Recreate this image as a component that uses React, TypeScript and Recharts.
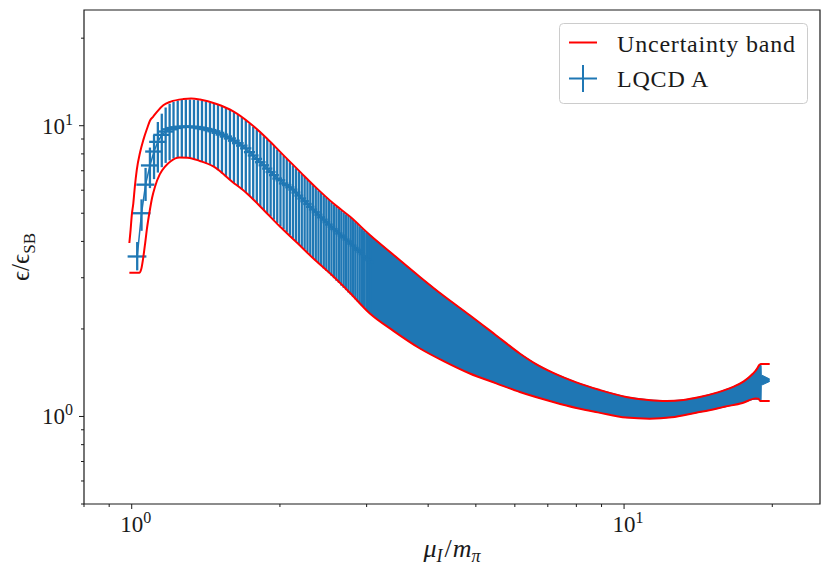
import React from 'react'
import {
  ComposedChart, XAxis, YAxis, Scatter, ErrorBar, Line, Area, Legend, ReferenceArea,
} from 'recharts'

// lattice points (mu_I / m_pi) with central value and lower / upper ends of the error bar
const MU_PTS = [
  1.026, 1.047, 1.067, 1.089, 1.110, 1.130, 1.151, 1.172, 1.194, 1.216,
  1.240, 1.264, 1.288, 1.313, 1.338, 1.363, 1.389, 1.415, 1.442, 1.469,
  1.497, 1.525, 1.554, 1.583, 1.613, 1.643, 1.674, 1.705, 1.735, 1.765,
  1.795, 1.825, 1.855, 1.885, 1.915, 1.945, 1.975, 2.005, 2.035, 2.065,
  2.095, 2.125, 2.155, 2.185, 2.215, 2.245, 2.275, 2.305, 2.335, 2.365,
  2.395, 2.425, 2.455, 2.485, 2.515, 2.545, 2.575, 2.605, 2.635, 2.665,
  2.695, 2.725, 2.755, 2.785, 2.815, 2.845, 2.875, 2.905, 2.935, 2.965,
  2.995, 3.025, 3.055,
]
const EPS_MID = [
  3.55, 5.0, 6.27, 7.3, 8.15, 8.8, 9.3, 9.55, 9.72, 9.82,
  9.88, 9.92, 9.93, 9.92, 9.9, 9.86, 9.8, 9.74, 9.66, 9.57,
  9.45, 9.32, 9.18, 9.04, 8.88, 8.71, 8.54, 8.36, 8.11, 7.9,
  7.69, 7.49, 7.31, 7.12, 6.93, 6.76, 6.58, 6.49, 6.33, 6.25,
  6.14, 6.03, 5.89, 5.75, 5.62, 5.5, 5.38, 5.26, 5.15, 5.04,
  4.94, 4.84, 4.75, 4.66, 4.57, 4.49, 4.41, 4.34, 4.26, 4.19,
  4.13, 4.06, 4.0, 3.93, 3.87, 3.8, 3.74, 3.68, 3.62, 3.56,
  3.5, 3.45, 3.4,
]
const EPS_LO = [
  3.18, 4.35, 5.51, 6.1, 6.55, 6.9, 7.2, 7.45, 7.6, 7.72,
  7.76, 7.77, 7.76, 7.72, 7.67, 7.6, 7.52, 7.42, 7.33, 7.22,
  7.03, 6.85, 6.68, 6.51, 6.35, 6.19, 6.04, 5.89, 5.73, 5.57,
  5.42, 5.27, 5.13, 5.0, 4.87, 4.75, 4.63, 4.52, 4.41, 4.3,
  4.2, 4.1, 4.01, 3.92, 3.83, 3.75, 3.67, 3.59, 3.51, 3.44,
  3.37, 3.3, 3.23, 3.17, 3.11, 3.05, 2.99, 2.93, 2.88, 2.82,
  2.77, 2.72, 2.67, 2.63, 2.58, 2.53, 2.49, 2.45, 2.41, 2.37,
  2.33, 2.29, 2.25,
]
const EPS_HI = [
  3.98, 5.58, 7.16, 8.41, 9.3, 10.3, 11.0, 11.55, 11.9, 12.08,
  12.2, 12.27, 12.3, 12.3, 12.27, 12.24, 12.19, 12.12, 12.02, 11.92,
  11.8, 11.66, 11.5, 11.33, 11.14, 10.92, 10.69, 10.44, 10.18, 9.92,
  9.67, 9.43, 9.2, 8.98, 8.74, 8.51, 8.28, 8.07, 7.87, 7.68,
  7.49, 7.31, 7.14, 6.97, 6.82, 6.67, 6.52, 6.38, 6.24, 6.11,
  5.99, 5.87, 5.76, 5.66, 5.55, 5.45, 5.35, 5.27, 5.19, 5.11,
  5.03, 4.96, 4.9, 4.82, 4.74, 4.66, 4.59, 4.51, 4.44, 4.37,
  4.3, 4.24, 4.17,
]
const MU_ERR = 0.045

// dense region where the error bars merge into a solid band
const BAND_MU = [
  2.995, 3.046, 3.4, 3.85, 4.3, 4.86, 5.5, 6.14, 6.6, 7.18, 8.0, 8.9, 10.1,
  11.27, 12.2, 13.2, 14.25, 15.5, 16.65, 17.5, 18.28, 18.8, 18.98, 19.0, 19.76,
]
const BAND_LO = [
  2.33, 2.26, 1.97, 1.713, 1.55, 1.405, 1.3, 1.214, 1.17, 1.122, 1.07, 1.031, 0.991,
  0.983, 0.99, 1.01, 1.035, 1.065, 1.095, 1.117, 1.145, 1.145, 1.14, 1.28, 1.32,
]
const BAND_HI = [
  4.3, 4.21, 3.6, 3.02, 2.6, 2.23, 1.9, 1.647, 1.52, 1.412, 1.31, 1.235, 1.167,
  1.14, 1.131, 1.14, 1.167, 1.21, 1.264, 1.32, 1.405, 1.49, 1.5, 1.39, 1.345,
]

// uncertainty band edges
const UP_MU = [
  0.989, 0.995, 1.0, 1.0075, 1.015, 1.024, 1.04, 1.056, 1.075, 1.089, 1.106, 1.13,
  1.159, 1.2, 1.273, 1.32, 1.376, 1.487, 1.608, 1.738, 1.88, 2.03, 2.196, 2.374,
  2.566, 2.774, 3.046, 3.4, 3.85, 4.3, 4.86, 5.5, 6.14, 6.6, 7.18, 8.0, 8.9, 10.1,
  11.2, 12.2, 13.2, 14.25, 15.5, 16.65, 17.5, 18.28, 18.6, 18.8, 18.95, 19.76,
]
const UP_EPS = [
  3.95, 4.4, 4.9, 5.41, 6.2, 7.05, 8.1, 8.94, 9.8, 10.4, 10.75, 11.25,
  11.75, 12.1, 12.35, 12.4, 12.3, 11.87, 11.2, 10.2, 9.06, 7.94, 6.95, 6.1,
  5.41, 4.87, 4.21, 3.6, 3.02, 2.6, 2.23, 1.9, 1.647, 1.52, 1.412, 1.31, 1.235, 1.167,
  1.14, 1.131, 1.14, 1.167, 1.21, 1.264, 1.32, 1.405, 1.455, 1.5, 1.515, 1.515,
]
const DN_MU = [
  0.989, 1.036, 1.045, 1.056, 1.065, 1.073, 1.089, 1.1, 1.115, 1.14, 1.17, 1.2,
  1.25, 1.3, 1.376, 1.465, 1.6, 1.712, 1.85, 2.0, 2.17, 2.336, 2.53, 2.77, 3.046,
  3.4, 3.85, 4.3, 4.86, 5.5, 6.14, 7.18, 8.0, 8.9, 10.1, 11.27, 12.5, 14.0, 14.9,
  16.0, 17.4, 18.5, 18.75, 18.9, 19.76,
]
const DN_EPS = [
  3.12, 3.12, 3.2, 3.54, 3.95, 4.38, 5.15, 5.65, 6.17, 6.8, 7.25, 7.55,
  7.77, 7.76, 7.56, 7.24, 6.42, 5.86, 5.15, 4.5, 3.95, 3.5, 3.1, 2.67, 2.26,
  1.97, 1.713, 1.55, 1.405, 1.3, 1.214, 1.122, 1.07, 1.031, 0.991, 0.983, 0.993, 1.03, 1.05,
  1.08, 1.113, 1.152, 1.15, 1.131, 1.131,
]

const X_TICKS = [0.8, 0.9, 1, 2, 3, 4, 5, 6, 7, 8, 9, 10, 20]
const Y_TICKS = [0.5, 0.6, 0.7, 0.8, 0.9, 1, 2, 3, 4, 5, 6, 7, 8, 9, 10, 20]

const BLUE = '#1f77b4'
const RED = '#ff0000'
const INK = '#1a1a1a'
const SERIF = '"Liberation Serif", "DejaVu Serif", serif'

const errPts = MU_PTS.map((mu, i) => ({
  mu,
  eps: EPS_MID[i],
  yErr: [EPS_MID[i] - EPS_LO[i], EPS_HI[i] - EPS_MID[i]],
  xErr: MU_ERR,
}))
const bandPts = BAND_MU.map((mu, i) => ({ mu, range: [BAND_LO[i], BAND_HI[i]] }))
const upPts = UP_MU.map((mu, i) => ({ mu, eps: UP_EPS[i] }))
const dnPts = DN_MU.map((mu, i) => ({ mu, eps: DN_EPS[i] }))

const expOf = (v: number) => Math.round(Math.log10(v))
const isMajor = (v: number) => v === 1 || v === 10

function XTick(props: any) {
  const { x, y, payload } = props
  const v = payload.value
  const major = isMajor(v)
  return (
    <g>
      <line x1={x} x2={x} y1={y} y2={y + (major ? 5 : 3)} stroke={INK} strokeWidth={1} />
      {major && (
        <text x={x + 4} y={y + 28} textAnchor="middle" fontFamily={SERIF} fontSize={23} fill={INK}>
          10<tspan dy={-9} fontSize={16}>{expOf(v)}</tspan>
        </text>
      )}
    </g>
  )
}

function YTick(props: any) {
  const { x, y, payload } = props
  const v = payload.value
  const major = isMajor(v)
  return (
    <g>
      <line x1={x} x2={x - (major ? 5 : 3)} y1={y} y2={y} stroke={INK} strokeWidth={1} />
      {major && (
        <text x={x - 11} y={y + 8} textAnchor="end" fontFamily={SERIF} fontSize={23} fill={INK}>
          10<tspan dy={-9} fontSize={16}>{expOf(v)}</tspan>
        </text>
      )}
    </g>
  )
}

function LegendBox() {
  return (
    <svg width={249} height={81} style={{ display: 'block' }}>
      <rect x={0.5} y={0.5} width={248} height={80} rx={4}
        fill="#fff" fillOpacity={0.8} stroke="#cccccc" strokeWidth={1} />
      <line x1={10} x2={38} y1={19.5} y2={19.5} stroke={RED} strokeWidth={2} />
      <text x={58} y={29} fontFamily={SERIF} fontSize={24} letterSpacing={0.8} fill={INK}>
        Uncertainty band
      </text>
      <line x1={10} x2={38} y1={55.5} y2={55.5} stroke={BLUE} strokeWidth={2} />
      <line x1={24} x2={24} y1={42} y2={69} stroke={BLUE} strokeWidth={2} />
      <text x={58} y={64} fontFamily={SERIF} fontSize={24} letterSpacing={0.8} fill={INK}>
        LQCD A
      </text>
    </svg>
  )
}

export default function App() {
  return (
    <div style={{ position: 'fixed', left: 0, top: 0, width: 831, height: 579, background: '#fff' }}>
      <ComposedChart width={831} height={579} margin={{ top: 10, right: 11, left: 0, bottom: 0 }}>
        <XAxis
          dataKey="mu"
          type="number"
          scale="log"
          domain={[0.8, 25]}
          allowDataOverflow
          ticks={X_TICKS}
          interval={0}
          height={75}
          axisLine={false}
          tickLine={false}
          tickSize={0}
          tickMargin={0}
          tick={<XTick />}
          label={{
            content: () => (
              <text x={452} y={557} textAnchor="middle" fontFamily={SERIF} fontSize={26} fill={INK}>
                <tspan fontStyle="italic">μ</tspan>
                <tspan fontStyle="italic" fontSize={18} dy={5}>I</tspan>
                <tspan dy={-5} dx={2}>/</tspan>
                <tspan fontStyle="italic" dx={1}>m</tspan>
                <tspan fontStyle="italic" fontSize={18} dy={5}>π</tspan>
              </text>
            ),
          }}
        />
        <YAxis
          type="number"
          scale="log"
          domain={[0.5, 25]}
          allowDataOverflow
          ticks={Y_TICKS}
          interval={0}
          width={84}
          axisLine={false}
          tickLine={false}
          tickSize={0}
          tickMargin={0}
          tick={<YTick />}
          label={{
            content: () => (
              <text x={29} y={257} transform="rotate(-90, 29, 257)" textAnchor="middle"
                fontFamily={SERIF} fontSize={25} fill={INK}>
                ϵ/ϵ<tspan fontSize={17} dy={6}>SB</tspan>
              </text>
            ),
          }}
        />

        <Area
          data={bandPts}
          dataKey="range"
          type="linear"
          stroke={BLUE}
          strokeWidth={1}
          fill={BLUE}
          fillOpacity={1}
          dot={false}
          activeDot={false}
          isAnimationActive={false}
        />
        <Scatter
          data={errPts}
          dataKey="eps"
          line={{ stroke: BLUE, strokeWidth: 1.5 }}
          lineType="joint"
          shape={() => <g />}
          isAnimationActive={false}
        >
          <ErrorBar dataKey="yErr" direction="y" width={0} stroke={BLUE} strokeWidth={2.3} isAnimationActive={false} />
          <ErrorBar dataKey="xErr" direction="x" width={0} stroke={BLUE} strokeWidth={2.3} isAnimationActive={false} />
        </Scatter>
        <Line data={upPts} dataKey="eps" type="monotone" stroke={RED} strokeWidth={2}
          dot={false} activeDot={false} isAnimationActive={false} />
        <Line data={dnPts} dataKey="eps" type="monotone" stroke={RED} strokeWidth={2}
          dot={false} activeDot={false} isAnimationActive={false} />

        <ReferenceArea x1={0.8} x2={25} y1={0.5} y2={25} fill="none" stroke={INK}
          strokeWidth={1.2} ifOverflow="visible" />

        <Legend
          layout="vertical"
          align="center"
          verticalAlign="middle"
          wrapperStyle={{ position: 'absolute', left: 559, top: 23, width: 249, height: 81 }}
          content={() => <LegendBox />}
        />
      </ComposedChart>
    </div>
  )
}
